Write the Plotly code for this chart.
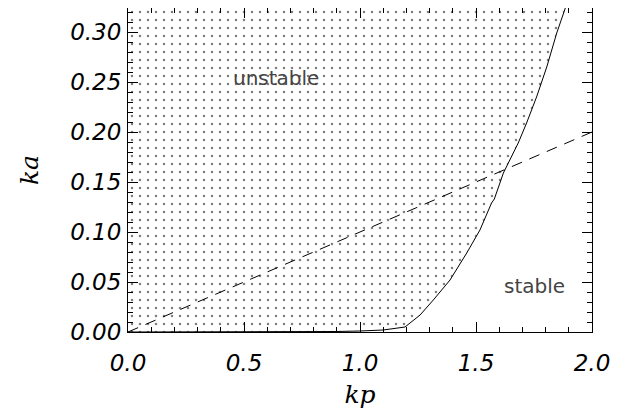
import plotly.graph_objects as go

# Stability boundary
boundary_kp = [0.0, 0.8, 0.9, 1.0, 1.1, 1.194, 1.259, 1.316, 1.388, 1.460, 1.517, 1.567,
               1.579, 1.618, 1.647, 1.682, 1.718, 1.761, 1.805, 1.848, 1.891, 1.90]
boundary_ka = [0.0, 0.0, 0.0005, 0.001, 0.002, 0.005, 0.017, 0.032, 0.052, 0.079, 0.102, 0.129,
               0.133, 0.159, 0.172, 0.189, 0.209, 0.235, 0.265, 0.299, 0.328, 0.335]

# Dashed reference line ka = 0.1 kp
line_kp = [0.0, 2.0]
line_ka = [0.0, 0.2]

x_range = [0.0, 2.0]
y_range = [0.0, 0.324]

fig = go.Figure()

fig.add_trace(go.Scatter(
    x=boundary_kp, y=boundary_ka, mode="lines",
    line=dict(color="black", width=1),
    fill="tozerox", fillcolor="white",
    fillpattern=dict(shape=".", size=8, solidity=0.08, fgcolor="black", bgcolor="white"),
    showlegend=False, hoverinfo="skip",
))

fig.add_trace(go.Scatter(
    x=line_kp, y=line_ka, mode="lines",
    line=dict(color="black", width=1, dash="11px,8px"),
    showlegend=False, hoverinfo="skip",
))

fig.add_annotation(x=0.64, y=0.254, text="unstable", showarrow=False,
                   font=dict(family="DejaVu Sans", size=20, color="#444444"))
fig.add_annotation(x=1.754, y=0.046, text="stable", showarrow=False,
                   font=dict(family="DejaVu Sans", size=20, color="#444444"))

tickfont = dict(family="DejaVu Sans", size=23, color="black", style="italic")
titlefont = dict(family="DejaVu Serif", size=25, color="black", style="italic")

fig.update_layout(
    width=629, height=407,
    margin=dict(l=120, r=45, t=0, b=83),
    paper_bgcolor="white", plot_bgcolor="white",
    xaxis=dict(
        range=x_range, tickvals=[0.0, 0.5, 1.0, 1.5, 2.0],
        ticktext=["0.0", "0.5", "1.0", "1.5", "2.0"],
        ticks="inside", ticklen=10, tickcolor="black", tickwidth=1,
        minor=dict(dtick=0.1, ticks="inside", ticklen=5, tickcolor="black"),
        showline=True, linecolor="black", linewidth=1, mirror="ticks",
        showgrid=False, zeroline=False, tickfont=tickfont,
        ticklabelstandoff=10, automargin=False,
        title=dict(text="kp", font=titlefont, standoff=10),
    ),
    yaxis=dict(
        range=y_range, tickvals=[0.0, 0.05, 0.10, 0.15, 0.20, 0.25, 0.30],
        ticktext=["0.00", "0.05", "0.10", "0.15", "0.20", "0.25", "0.30"],
        ticks="inside", ticklen=10, tickcolor="black", tickwidth=1,
        minor=dict(dtick=0.01, ticks="inside", ticklen=5, tickcolor="black"),
        showline=True, linecolor="black", linewidth=1, mirror="ticks",
        showgrid=False, zeroline=False, tickfont=tickfont,
        ticklabelstandoff=1, automargin=False,
        title=dict(text="ka", font=titlefont, standoff=24),
    ),
)

fig.write_html("out.html")
